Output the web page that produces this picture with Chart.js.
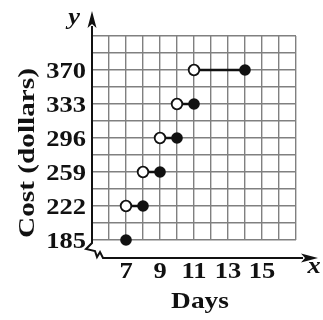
<!DOCTYPE html>
<html>
<head>
<meta charset="utf-8">
<script src="https://cdn.jsdelivr.net/npm/chart.js@4.4.1/dist/chart.umd.min.js"></script>
<style>
  html, body { margin: 0; padding: 0; background: #fff; }
  #wrap { width: 323px; height: 320px; }
  .fontprime { font-family: "Liberation Serif"; font-weight: bold; position: absolute; left: -999px; }
</style>
</head>
<body>
<span class="fontprime">Cost <i>xy</i></span>
<div id="wrap"><canvas id="costChart" width="323" height="320"></canvas></div>
<script>
/* ---------- data ---------- */
const openDays   = [7, 8, 9, 10, 11];
const closedDays = [8, 9, 10, 11, 14];
const stepCosts  = [222, 259, 296, 333, 370];
const firstDay   = 7;
const firstCost  = 185;

const xTickLabels = [7, 9, 11, 13, 15];
const yTickLabels = [185, 222, 259, 296, 333, 370];

const SERIF = '"Liberation Serif", "Times New Roman", serif';

/* ---------- datasets ---------- */
const datasets = [];

// horizontal pieces of the step function
stepCosts.forEach((c, i) => {
  datasets.push({
    type: 'scatter',
    showLine: true,
    data: [{ x: openDays[i], y: c }, { x: closedDays[i], y: c }],
    borderColor: '#111',
    borderWidth: 2.5,
    pointRadius: 0,
    clip: false,
    order: 3
  });
});

// open endpoints
datasets.push({
  type: 'scatter',
  data: openDays.map((d, i) => ({ x: d, y: stepCosts[i] })),
  pointRadius: 5.3,
  pointBackgroundColor: '#fff',
  pointBorderColor: '#111',
  pointBorderWidth: 1.8,
  clip: false,
  order: 2
});

// closed endpoints
datasets.push({
  type: 'scatter',
  data: [{ x: firstDay, y: firstCost }].concat(closedDays.map((d, i) => ({ x: d, y: stepCosts[i] }))),
  pointRadius: 5.8,
  pointBackgroundColor: '#111',
  pointBorderColor: '#111',
  pointBorderWidth: 0,
  clip: false,
  order: 1
});

/* ---------- axes, arrows, labels ---------- */
function stretchText(ctx, txt, x, y, sx, align) {
  ctx.save();
  ctx.translate(x, y);
  ctx.scale(sx, 1);
  ctx.textAlign = align;
  ctx.fillText(txt, 0, 0);
  ctx.restore();
}

const axesPlugin = {
  id: 'axesPlugin',
  afterDraw(chart) {
    const ctx = chart.ctx;
    const xs = chart.scales.x, ys = chart.scales.y;
    const ax = xs.getPixelForValue(5);
    const bottom = ys.getPixelForValue(185);
    const xAxisY = bottom + 18;

    ctx.save();
    ctx.strokeStyle = '#111';
    ctx.fillStyle = '#111';
    ctx.lineWidth = 2;

    // y axis + zigzag break
    ctx.beginPath();
    ctx.moveTo(ax, 26);
    ctx.lineTo(ax, bottom + 3);
    ctx.lineTo(ax - 6, bottom + 9);
    ctx.lineTo(ax + 3, bottom + 11);
    ctx.lineTo(ax + 5, bottom + 17);
    ctx.lineTo(ax + 8, bottom + 12);
    ctx.lineTo(ax + 11, xAxisY);
    ctx.lineTo(303, xAxisY);
    ctx.stroke();

    // arrow heads
    ctx.beginPath();
    ctx.moveTo(ax, 11);
    ctx.lineTo(ax + 4.5, 28);
    ctx.lineTo(ax, 24);
    ctx.lineTo(ax - 4.5, 28);
    ctx.closePath();
    ctx.fill();

    ctx.beginPath();
    ctx.moveTo(318, xAxisY);
    ctx.lineTo(301, xAxisY - 4.5);
    ctx.lineTo(305, xAxisY);
    ctx.lineTo(301, xAxisY + 4.5);
    ctx.closePath();
    ctx.fill();

    // tick labels
    ctx.font = 'bold 23px ' + SERIF;
    ctx.textBaseline = 'alphabetic';
    xTickLabels.forEach(v => {
      stretchText(ctx, String(v), xs.getPixelForValue(v), xAxisY + 20, 1.15, 'center');
    });
    yTickLabels.forEach(v => {
      stretchText(ctx, String(v), ax - 6, ys.getPixelForValue(v) + 8, 1.15, 'right');
    });

    // axis letters
    ctx.font = 'italic bold 24px ' + SERIF;
    stretchText(ctx, 'y', 74, 24, 1.1, 'center');
    stretchText(ctx, 'x', 314, 273, 1.1, 'center');

    // axis titles
    ctx.font = 'bold 24px ' + SERIF;
    stretchText(ctx, 'Days', 200, 308, 1.14, 'center');

    ctx.translate(34, 153);
    ctx.rotate(-Math.PI / 2);
    stretchText(ctx, 'Cost (dollars)', 0, 0, 1.22, 'center');
    ctx.restore();
  }
};

/* ---------- chart ---------- */
function drawChart() {
  new Chart(document.getElementById('costChart'), {
    data: { datasets },
    options: {
      responsive: false,
      animation: false,
      layout: { padding: { left: 92, right: 27, top: 36, bottom: 80 } },
      plugins: {
        legend: { display: false },
        tooltip: { enabled: false }
      },
      scales: {
        x: {
          type: 'linear',
          min: 5,
          max: 17,
          ticks: { display: false, stepSize: 1 },
          grid: { color: '#808080', lineWidth: 1.4, drawTicks: false },
          border: { display: false }
        },
        y: {
          type: 'linear',
          min: 185,
          max: 407,
          ticks: { display: false, stepSize: 18.5 },
          grid: { color: '#808080', lineWidth: 1.4, drawTicks: false },
          border: { display: false }
        }
      }
    },
    plugins: [axesPlugin]
  });
}

Promise.all([
  document.fonts.load('bold 23px "Liberation Serif"'),
  document.fonts.load('italic bold 24px "Liberation Serif"')
]).then(drawChart, drawChart);
</script>
</body>
</html>
